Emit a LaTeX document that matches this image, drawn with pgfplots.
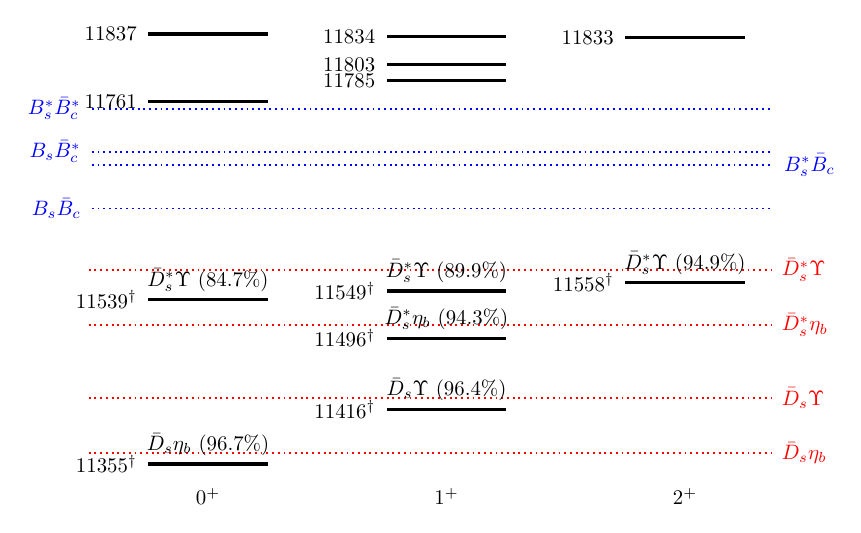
\documentclass[border=0pt]{standalone}
\usepackage{pgfplots}
\pgfplotsset{compat=1.18}
\tikzset{
  lev/.style={black, line width=1.5pt},
  thr/.style={line width=0.9pt, dash pattern=on 0.9pt off 1.85pt},
  ml/.style={anchor=east, xshift=-1.5pt, text=black},
  dl/.style={anchor=south, text=black},
  ll/.style={anchor=east, xshift=-1.5pt},
  rl/.style={anchor=west, xshift=1.5pt},
}
\begin{document}
\begin{tikzpicture}
\begin{axis}[
  x=114.48pt, y=0.42816pt,
  xmin=-0.872, xmax=2.738, ymin=11336, ymax=11875,
  axis line style={draw=none},
  tick style={draw=none},
  ytick=\empty,
  xtick={0,1,2},
  xticklabels={$0^+$,$1^+$,$2^+$},
  xtick pos=bottom,
  clip=false,
]
% thresholds (blue)
\addplot[blue, thr] coordinates {(-0.487,11753.4) (2.37,11753.4)} node[pos=0, ll] {$B_s^*\bar{B}_c^*$};
\addplot[blue, thr] coordinates {(-0.487,11705.0) (2.37,11705.0)} node[pos=0, ll] {$B_s\bar{B}_c^*$};
\addplot[blue, thr] coordinates {(-0.487,11689.9) (2.37,11689.9)} node[pos=1, rl] {$B_s^*\bar{B}_c$};
\addplot[blue, thr] coordinates {(-0.487,11641.4) (2.37,11641.4)} node[pos=0, ll] {$B_s\bar{B}_c$};
% thresholds (red)
\addplot[red, thr] coordinates {(-0.5,11572.5) (2.36,11572.5)} node[pos=1, rl] {$\bar{D}_s^*\Upsilon$};
\addplot[red, thr] coordinates {(-0.5,11510.9) (2.36,11510.9)} node[pos=1, rl] {$\bar{D}_s^*\eta_b$};
\addplot[red, thr] coordinates {(-0.5,11428.7) (2.36,11428.7)} node[pos=1, rl] {$\bar{D}_s\Upsilon$};
\addplot[red, thr] coordinates {(-0.5,11367.1) (2.36,11367.1)} node[pos=1, rl] {$\bar{D}_s\eta_b$};
% 0+ levels
\addplot[lev] coordinates {(-0.25,11837) (0.25,11837)} node[pos=0, ml] {11837};
\addplot[lev] coordinates {(-0.25,11761) (0.25,11761)} node[pos=0, ml] {11761};
\addplot[lev] coordinates {(-0.25,11539) (0.25,11539)} node[pos=0, ml] {11539$^\dagger$} node[pos=0.5, dl] {$\bar{D}_s^*\Upsilon$ (84.7\%)};
\addplot[lev] coordinates {(-0.25,11355) (0.25,11355)} node[pos=0, ml] {11355$^\dagger$} node[pos=0.5, dl] {$\bar{D}_s\eta_b$ (96.7\%)};
% 1+ levels
\addplot[lev] coordinates {(0.75,11834) (1.25,11834)} node[pos=0, ml] {11834};
\addplot[lev] coordinates {(0.75,11803) (1.25,11803)} node[pos=0, ml] {11803};
\addplot[lev] coordinates {(0.75,11785) (1.25,11785)} node[pos=0, ml] {11785};
\addplot[lev] coordinates {(0.75,11549) (1.25,11549)} node[pos=0, ml] {11549$^\dagger$} node[pos=0.5, dl] {$\bar{D}_s^*\Upsilon$ (89.9\%)};
\addplot[lev] coordinates {(0.75,11496) (1.25,11496)} node[pos=0, ml] {11496$^\dagger$} node[pos=0.5, dl] {$\bar{D}_s^*\eta_b$ (94.3\%)};
\addplot[lev] coordinates {(0.75,11416) (1.25,11416)} node[pos=0, ml] {11416$^\dagger$} node[pos=0.5, dl] {$\bar{D}_s\Upsilon$ (96.4\%)};
% 2+ levels
\addplot[lev] coordinates {(1.75,11833) (2.25,11833)} node[pos=0, ml] {11833};
\addplot[lev] coordinates {(1.75,11558) (2.25,11558)} node[pos=0, ml] {11558$^\dagger$} node[pos=0.5, dl] {$\bar{D}_s^*\Upsilon$ (94.9\%)};
\coordinate (bl) at (axis cs:-0.872,11277.65);
\coordinate (tr) at (axis cs:2.738,11875.18);
\end{axis}
\pgfresetboundingbox
\path[use as bounding box] (bl) rectangle (tr);
\end{tikzpicture}
\end{document}
